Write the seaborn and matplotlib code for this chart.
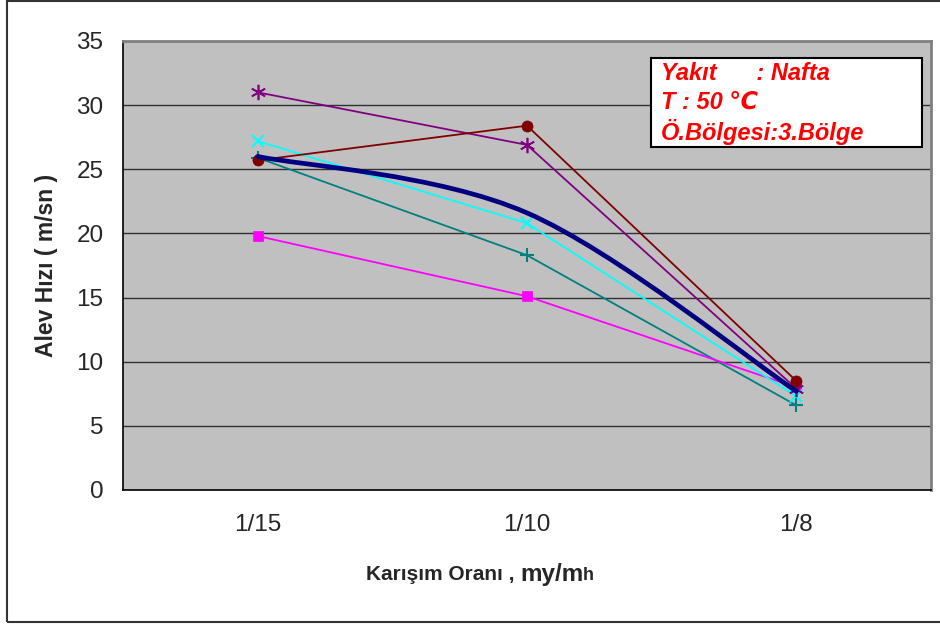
import numpy as np
import matplotlib
matplotlib.use("Agg")
import matplotlib.pyplot as plt
import seaborn as sns
from matplotlib.path import Path
from matplotlib.patches import PathPatch, Rectangle
from matplotlib.offsetbox import TextArea, HPacker, AnnotationBbox

# Veriler
kategoriler = ["1/15", "1/10", "1/8"]
seri_bordo = [25.7, 28.4, 8.5]
seri_mor = [31.0, 26.9, 7.9]
seri_turkuaz = [27.2, 20.8, 7.3]
seri_camgobegi = [25.9, 18.3, 6.6]
seri_pembe = [19.8, 15.1, 8.0]
seri_ortalama = [26.0, 21.6, 7.7]
y_ticks = [0, 5, 10, 15, 20, 25, 30, 35]

sns.set_style("white")
plt.rcParams['font.family'] = ['Liberation Sans', 'DejaVu Sans']

fig = plt.figure(figsize=(9.4, 6.26), dpi=100)
ax = fig.add_axes([123 / 940, 1 - 490 / 626, 808 / 940, 449 / 626])
ax.set_facecolor('#C0C0C0')

x = np.arange(len(kategoriler))

# ince seriler: (degerler, renk, isaret, isaret kalinligi, boyut)
seriler = [
    (seri_camgobegi, '#008080', '+', 1.5, 10),
    (seri_pembe, '#FF00FF', 's', 0.5, 7.5),
    (seri_turkuaz, '#00FFFF', 'x', 1.5, 9),
    (seri_mor, '#800080', (6, 2, 0), 1.2, 11),
    (seri_bordo, '#800000', 'o', 0.5, 8),
]
for vals, renk, mk, mew, ms in seriler:
    sns.lineplot(x=x, y=vals, ax=ax, color=renk, lw=1.3, marker=mk, markersize=ms,
                 markeredgewidth=mew, markeredgecolor=renk,
                 markerfacecolor=renk, zorder=3, legend=False)

# kalin, yumusatilmis ortalama cizgisi (Excel "smooth line" gibi)
pts = np.column_stack([x, seri_ortalama]).astype(float)
verts = [pts[0]]
codes = [Path.MOVETO]
n = len(pts)
for i in range(n - 1):
    p_prev = pts[max(i - 1, 0)]
    p0, p1 = pts[i], pts[i + 1]
    p_next = pts[min(i + 2, n - 1)]
    c1 = p0 + (p1 - p_prev) / 6
    c2 = p1 - (p_next - p0) / 6
    verts += [c1, c2, p1]
    codes += [Path.CURVE4] * 3
ax.add_patch(PathPatch(Path(verts, codes), facecolor='none', edgecolor='#000080',
                       lw=3.4, zorder=4, capstyle='round'))

# eksenler
ax.set_xlim(-0.5, 2.5)
ax.set_ylim(0, 35)
ax.set_xticks(x)
ax.set_xticklabels(kategoriler)
ax.set_xticks([-0.5, 0.5, 1.5, 2.5], minor=True)
ax.set_yticks(y_ticks)
ax.tick_params(axis='x', which='major', length=0, pad=17, labelsize=17.5)
ax.tick_params(axis='x', which='minor', length=6, width=1, color='black', direction='out')
ax.tick_params(axis='y', length=6, width=1, color='black', direction='out', pad=8, labelsize=17.5)
ax.yaxis.grid(True, color='#303030', lw=1)
ax.set_axisbelow(True)
for s in ['left', 'bottom']:
    ax.spines[s].set_color('black')
    ax.spines[s].set_linewidth(1.2)
for s in ['top', 'right']:
    ax.spines[s].set_color('#808080')
    ax.spines[s].set_linewidth(2)

ax.set_ylabel("Alev Hızı ( m/sn )", fontsize=16.5, fontweight='bold')
ax.yaxis.set_label_coords(-0.08, 0.5)

# x ekseni basligi (farkli boyutlar)
parcalar = HPacker(children=[
    TextArea("Karışım Oranı , ", textprops=dict(fontsize=15, fontweight='bold')),
    TextArea("my/m", textprops=dict(fontsize=17.5, fontweight='bold')),
    TextArea("h", textprops=dict(fontsize=13, fontweight='bold')),
], align='baseline', pad=0, sep=0)
fig.add_artist(AnnotationBbox(parcalar, (480 / 940, 1 - 574 / 626), xycoords='figure fraction',
                              frameon=False, box_alignment=(0.5, 0.5)))

# bilgi kutusu
ax.add_patch(Rectangle((0.653, 0.764), 0.336, 0.198, transform=ax.transAxes,
                       facecolor='white', edgecolor='black', lw=1.5, zorder=5))
kutu = dict(color='#FF0000', fontsize=17, fontweight='bold', fontstyle='italic',
            transform=ax.transAxes, va='center', ha='left', zorder=6)
ax.text(0.666, 0.927, "Yakıt      : Nafta", **kutu)
ax.text(0.666, 0.864, "T : 50 ℃", **kutu)
ax.text(0.666, 0.798, "Ö.Bölgesi:3.Bölge", **kutu)

# dis cerceve
fig.add_artist(Rectangle((7 / 940, 4 / 626), 1.0, 1 - 5 / 626, transform=fig.transFigure,
                         facecolor='none', edgecolor='#333333', lw=1.5))

fig.savefig("out.png", dpi=100)
